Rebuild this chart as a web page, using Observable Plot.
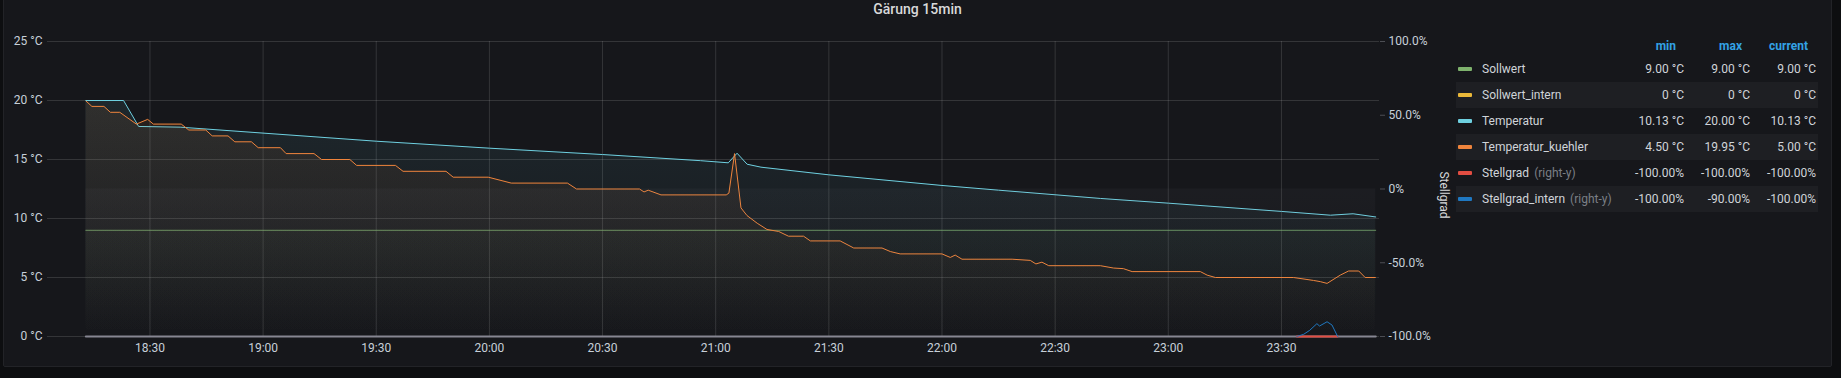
<!DOCTYPE html>
<html><head><meta charset="utf-8">
<script src="https://cdn.jsdelivr.net/npm/d3@7"></script>
<script src="https://cdn.jsdelivr.net/npm/@observablehq/plot@0.6"></script>
<style>
html,body{margin:0;padding:0;background:#0d0e10;width:1841px;height:378px;overflow:hidden;font-family:Roboto,"Noto Sans",sans-serif;}
#panel{position:absolute;left:3px;top:-2px;width:1829px;height:369px;background:#16171b;border:1px solid #222327;border-radius:2px;box-sizing:border-box;}
#title{position:absolute;left:3px;width:1829px;top:0;line-height:18px;text-align:center;color:#d8d9da;font-size:14px;font-weight:500;}
#chart{position:absolute;left:0;top:0;}
.row{position:absolute;left:1456px;width:362px;height:26px;}
.lg{position:absolute;font-size:12px;color:#d0d4d9;line-height:26px;white-space:nowrap;}
.hd{position:absolute;font-size:12px;font-weight:bold;color:#33a2e5;line-height:18px;text-align:right;white-space:nowrap;}
.sw{position:absolute;width:14px;height:4px;border-radius:1px;}
.ax{color:#7b7f86;margin-left:5px;}
</style></head>
<body>
<div id="panel"></div>
<div id="title">Gärung 15min</div>
<div id="chart"></div>
<div id="legend"></div>
<script>
// ---- time range and ticks ----
const xDomain = ["18:02:50", "23:56:00"];
const xTickLabels = ["18:30","19:00","19:30","20:00","20:30","21:00","21:30","22:00","22:30","23:00","23:30"];
const yTicks = [0, 5, 10, 15, 20, 25];
const rightTicks = [-100, -50, 0, 50, 100];
const rightTickLabels = ["-100.0%", "-50.0%", "0%", "50.0%", "100.0%"];

// ---- series ----
const seriesNames = ["Sollwert", "Sollwert_intern", "Temperatur", "Temperatur_kuehler", "Stellgrad", "Stellgrad_intern"];
const seriesColors = ["#7EB26D", "#EAB839", "#6ED0E0", "#EF843C", "#E24D42", "#1F78C1"];
const seriesAxis = ["", "", "", "", "right-y", "right-y"];
const baselineColor = "#868692";   // grey bottom line and band fill seen in the panel

const sollwertTimes = ["18:13", "23:55"];
const sollwertValues = [9, 9];

const sollwertInternTimes = ["18:13", "23:55"];
const sollwertInternValues = [0, 0];

const temperaturTimes = ["18:13","18:23","18:27","18:38","19:30","20:00","20:30","20:56","21:03:20","21:05:40","21:08:20","21:12","21:30","22:00","22:15","22:42","23:00","23:30","23:43","23:49","23:55"];
const temperaturValues = [20.0,20.0,17.8,17.74,16.55,15.96,15.42,14.9,14.72,15.53,14.6,14.35,13.7,12.8,12.4,11.7,11.3,10.6,10.28,10.4,10.13];

const kuehlerTimes = ["18:13:04","18:14:36","18:17:48","18:19:30","18:22:00","18:26:24","18:29:24","18:30:54","18:38:18","18:40:18","18:44:48","18:46:30","18:50:42","18:52:30","18:56:54","18:58:42","19:04:36","19:06:06","19:13:30","19:15:30","19:23:00","19:24:48","19:35:06","19:37:06","19:48:30","19:50:24","19:59:42","20:05:48","20:20:42","20:23:06","20:39:48","20:41:00","20:42:06","20:45:30","21:02:48","21:03:30","21:05:00","21:06:42","21:08:18","21:11:00","21:13:36","21:16:42","21:19:18","21:23:18","21:25:06","21:33:00","21:36:36","21:44:06","21:46:18","21:48:54","22:00:00","22:02:12","22:03:30","22:05:18","22:18:36","22:23:24","22:24:54","22:26:30","22:28:18","22:42:00","22:45:30","22:48:06","22:50:24","23:08:30","23:10:18","23:12:30","23:33:12","23:38:30","23:40:18","23:42:06","23:45:36","23:47:48","23:50:30","23:52:12","23:54:54"];
const kuehlerValues = [19.95,19.5,19.5,19.0,19.0,18.0,18.4,18.0,18.0,17.5,17.5,17.0,17.0,16.5,16.5,16.0,16.0,15.5,15.5,15.0,15.0,14.5,14.5,14.0,14.0,13.5,13.5,13.0,13.0,12.5,12.5,12.25,12.4,12.0,12.0,12.15,15.5,10.9,10.25,9.6,9.07,8.9,8.5,8.5,8.1,8.1,7.5,7.5,7.2,7.0,7.0,6.7,6.9,6.55,6.55,6.45,6.15,6.3,6.0,6.0,5.8,5.75,5.5,5.5,5.2,5.0,5.0,4.75,4.65,4.5,5.2,5.55,5.55,5.0,5.0];

const stellgradTimes = ["18:13", "23:34:06", "23:44:54", "23:55"];
const stellgradPct = [-100, -100, -100, -100];

const stellgradInternTimes = ["23:34:06","23:35:54","23:37:30","23:39:24","23:40:06","23:42:06","23:43:24","23:44:54"];
const stellgradInternPct = [-100, -98.5, -95.8, -91.3, -92.9, -90.0, -92.2, -100];

// ---- legend table ----
const legendHeaders = ["min", "max", "current"];
const legendMin = ["9.00 °C", "0 °C", "10.13 °C", "4.50 °C", "-100.00%", "-100.00%"];
const legendMax = ["9.00 °C", "0 °C", "20.00 °C", "19.95 °C", "-100.00%", "-90.00%"];
const legendCurrent = ["9.00 °C", "0 °C", "10.13 °C", "5.00 °C", "-100.00%", "-100.00%"];

// ---- helpers ----
const parse = s => { const [h, m, sec = 0] = s.split(":").map(Number); return new Date(2021, 0, 1, h, m, sec); };
const pctToY = p => (p + 100) / 8;   // right axis (-100..100 %) onto left axis (0..25 °C)
const mk = (times, vals, f = v => v) => times.map((s, i) => ({t: parse(s), v: f(vals[i])}));

const data = [
  mk(sollwertTimes, sollwertValues),
  mk(sollwertInternTimes, sollwertInternValues),
  mk(temperaturTimes, temperaturValues),
  mk(kuehlerTimes, kuehlerValues),
  mk(stellgradTimes, stellgradPct, pctToY),
  mk(stellgradInternTimes, stellgradInternPct, pctToY)
];
const bases = [0, 0, 0, 0, pctToY(0), pctToY(0)];
const fillIds = ["fg0", "fg1", "fg2", "fg3", "fgb", null];
const lineOpacity = [0.75, 1, 1, 1, 1, 1];
const xTicks = xTickLabels.map(parse);
const rightMap = new Map(rightTicks.map((p, i) => [pctToY(p), rightTickLabels[i]]));

const marks = [
  Plot.gridX(xTicks, {stroke: "#ffffff", strokeOpacity: 0.13}),
  Plot.gridY(yTicks, {stroke: "#ffffff", strokeOpacity: 0.13})
];
data.forEach((d, i) => {
  if (fillIds[i]) marks.push(Plot.areaY(d, {x: "t", y1: bases[i], y2: "v", fill: `url(#${fillIds[i]})`, curve: "linear"}));
  if (i !== 4 && i !== 5) marks.push(Plot.lineY(d, {x: "t", y: "v", stroke: seriesColors[i], strokeOpacity: lineOpacity[i], strokeWidth: 1, curve: "linear"}));
});
// grey bottom line, then the visible part of Stellgrad, then Stellgrad_intern
const [bs, be] = d3.extent(data[5], d => d.t);
marks.push(Plot.lineY(data[4], {x: "t", y: "v", stroke: baselineColor, strokeWidth: 2}));
marks.push(Plot.lineY(data[4].filter(d => d.t >= bs && d.t <= be), {x: "t", y: "v", stroke: seriesColors[4], strokeWidth: 2}));
marks.push(Plot.lineY(data[5], {x: "t", y: "v", stroke: seriesColors[5], strokeWidth: 1}));

marks.push(
  Plot.axisX(xTicks, {anchor: "bottom", tickSize: 0, tickPadding: 7, tickFormat: d3.timeFormat("%H:%M"), label: null, fill: "#c7d0d9"}),
  Plot.axisY(yTicks, {anchor: "left", tickSize: 0, tickPadding: 5, tickFormat: d => `${d} °C`, label: null, fill: "#c7d0d9"}),
  Plot.axisY(rightTicks.map(pctToY), {anchor: "right", tickSize: 5, tickPadding: 4, tickFormat: d => rightMap.get(d), label: null, stroke: "#4c4e54", fill: "#c7d0d9"}),
  Plot.text(["Stellgrad"], {frameAnchor: "right", dx: 64, dy: 6, rotate: 90, textAnchor: "middle", lineAnchor: "middle", fill: "#d8d9da", fontSize: 12})
);

const chart = Plot.plot({
  width: 1460, height: 366,
  marginTop: 41, marginBottom: 30, marginLeft: 47, marginRight: 81,
  style: {background: "transparent", color: "#c7d0d9", fontFamily: "Roboto, sans-serif", fontSize: "12px"},
  x: {type: "time", domain: xDomain.map(parse)},
  y: {domain: [0, 25]},
  marks
});

// gradient fills (Grafana-style: strong at top, transparent at bottom of the plot area)
const y = chart.scale("y");
const defs = d3.select(chart).insert("defs", ":first-child");
const fillColors = [seriesColors[0], seriesColors[1], seriesColors[2], seriesColors[3], baselineColor, seriesColors[5]];
fillColors.forEach((c, i) => {
  if (!fillIds[i]) return;
  const g = defs.append("linearGradient").attr("id", fillIds[i])
    .attr("gradientUnits", "userSpaceOnUse").attr("x1", 0).attr("x2", 0)
    .attr("y1", y.apply(25)).attr("y2", y.apply(0));
  g.append("stop").attr("offset", 0).attr("stop-color", c).attr("stop-opacity", 0.11);
  g.append("stop").attr("offset", 1).attr("stop-color", c).attr("stop-opacity", 0);
});
document.getElementById("chart").appendChild(chart);

// legend
const lg = document.getElementById("legend");
const hdRight = [1676, 1742, 1808];
legendHeaders.forEach((h, j) => {
  const e = document.createElement("div");
  e.className = "hd"; e.textContent = h;
  e.style.left = (hdRight[j] - 80) + "px"; e.style.width = "80px"; e.style.top = "37px";
  lg.appendChild(e);
});
const valRight = [1684, 1750, 1816];
seriesNames.forEach((name, i) => {
  const top = 56 + i * 26;
  const row = document.createElement("div");
  row.className = "row"; row.style.top = top + "px";
  if (i % 2 === 1) row.style.background = "#1e1f23";
  lg.appendChild(row);
  const sw = document.createElement("div");
  sw.className = "sw"; sw.style.left = "1458px"; sw.style.top = (top + 11) + "px"; sw.style.background = seriesColors[i];
  lg.appendChild(sw);
  const nm = document.createElement("div");
  nm.className = "lg"; nm.style.left = "1482px"; nm.style.top = top + "px";
  nm.textContent = name;
  if (seriesAxis[i]) { const s = document.createElement("span"); s.className = "ax"; s.textContent = `(${seriesAxis[i]})`; nm.appendChild(s); }
  lg.appendChild(nm);
  [legendMin[i], legendMax[i], legendCurrent[i]].forEach((v, j) => {
    const e = document.createElement("div");
    e.className = "lg"; e.textContent = v; e.style.textAlign = "right";
    e.style.left = (valRight[j] - 80) + "px"; e.style.width = "80px"; e.style.top = top + "px";
    lg.appendChild(e);
  });
});
</script>
</body></html>
